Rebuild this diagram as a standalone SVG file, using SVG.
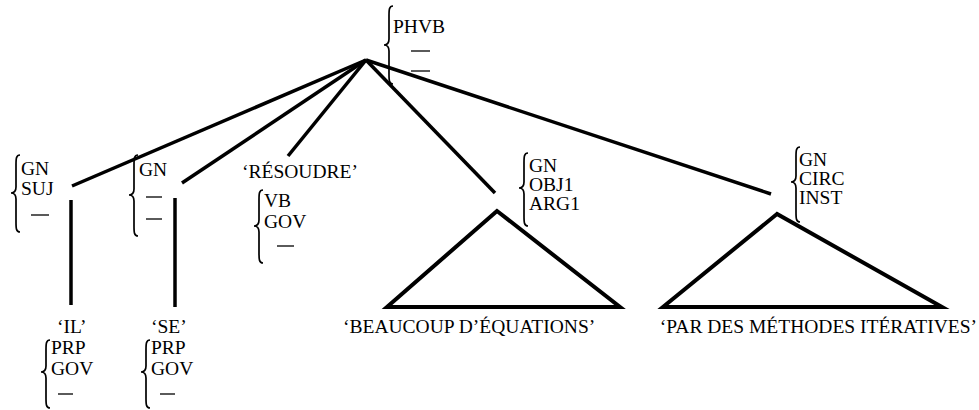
<svg xmlns="http://www.w3.org/2000/svg" width="979" height="410" viewBox="0 0 979 410">
<style>
text{font-family:"Liberation Serif","Times New Roman",serif;font-size:19.5px;fill:#000}
.edge{stroke:#000;stroke-width:3.5;stroke-linecap:butt;fill:none}
.tri{stroke:#000;stroke-width:4;fill:none;stroke-linejoin:miter}
.brace{stroke:#000;stroke-width:1.7;fill:none}
.dash{stroke:#000;stroke-width:1.3}
</style>
<rect width="979" height="410" fill="#fff"/>
<g id="connectors">
<line class="edge" x1="366" y1="60" x2="72" y2="186"/>
<line class="edge" x1="366" y1="60" x2="182" y2="183"/>
<line class="edge" x1="366" y1="60" x2="288" y2="156"/>
<line class="edge" x1="366" y1="60" x2="495" y2="193"/>
<line class="edge" x1="366" y1="60" x2="771" y2="194"/>
<line class="edge" x1="71" y1="200" x2="71" y2="305"/>
<line class="edge" x1="175" y1="198" x2="175" y2="307"/>
</g>
<g id="root">
<path class="brace" d="M393 6 C389 6 389 10 389 16 L389 39 C389 43 387 45 384 45 C387 45 389 47 389 51 L389 74 C389 80 389 84 393 84"/>
<text x="393" y="33">PHVB</text>
<line class="dash" x1="411" y1="51" x2="430" y2="51"/>
<line class="dash" x1="411" y1="71" x2="430" y2="71"/>
</g>
<g id="gn-suj">
<path class="brace" d="M20 155 C16 155 16 159 16 165 L16 187 C16 191 14 193 11 193 C14 193 16 195 16 199 L16 222 C16 228 16 232 20 232"/>
<text x="21" y="175">GN</text>
<text x="21" y="195">SUJ</text>
<line class="dash" x1="31" y1="215" x2="49" y2="215"/>
</g>
<g id="gn-se">
<path class="brace" d="M138 155 C134 155 134 159 134 165 L134 189 C134 193 132 195 129 195 C132 195 134 197 134 201 L134 226 C134 232 134 236 138 236"/>
<text x="139" y="176">GN</text>
<line class="dash" x1="146" y1="197" x2="162" y2="197"/>
<line class="dash" x1="146" y1="219" x2="162" y2="219"/>
</g>
<g id="resoudre">
<text x="242" y="178">‘RÉSOUDRE’</text>
<path class="brace" d="M263 190 C259 190 259 194 259 200 L259 220 C259 224 257 226 254 226 C257 226 259 228 259 232 L259 253 C259 259 259 263 263 263"/>
<text x="264" y="207">VB</text>
<text x="264" y="228">GOV</text>
<line class="dash" x1="277" y1="246" x2="294" y2="246"/>
</g>
<g id="gn-obj1">
<path class="brace" d="M528 153 C524 153 524 157 524 163 L524 182 C524 186 522 188 519 188 C522 188 524 190 524 194 L524 216 C524 222 524 226 528 226"/>
<text x="529" y="172">GN</text>
<text x="529" y="191">OBJ1</text>
<text x="529" y="210">ARG1</text>
<polygon class="tri" points="497,211 387,307 620,307"/>
<text x="343" y="333">‘BEAUCOUP D’ÉQUATIONS’</text>
</g>
<g id="gn-circ">
<path class="brace" d="M800 147 C796 147 796 151 796 157 L796 176 C796 180 794 182 791 182 C794 182 796 184 796 188 L796 212 C796 218 796 222 800 222"/>
<text x="799" y="166">GN</text>
<text x="799" y="185">CIRC</text>
<text x="799" y="204">INST</text>
<polygon class="tri" points="777,214 663,307 942,307"/>
<text x="977" y="333" text-anchor="end">‘PAR DES MÉTHODES ITÉRATIVES’</text>
</g>
<g id="il">
<text x="57" y="333">‘IL’</text>
<path class="brace" d="M50 340 C46 340 46 344 46 350 L46 366 C46 370 44 372 41 372 C44 372 46 374 46 378 L46 398 C46 404 46 408 50 408"/>
<text x="51" y="354">PRP</text>
<text x="51" y="375">GOV</text>
<line class="dash" x1="58" y1="394" x2="73" y2="394"/>
</g>
<g id="se">
<text x="151" y="333">‘SE’</text>
<path class="brace" d="M150 340 C146 340 146 344 146 350 L146 366 C146 370 144 372 141 372 C144 372 146 374 146 378 L146 398 C146 404 146 408 150 408"/>
<text x="151" y="354">PRP</text>
<text x="151" y="375">GOV</text>
<line class="dash" x1="160" y1="394" x2="175" y2="394"/>
</g>
</svg>
